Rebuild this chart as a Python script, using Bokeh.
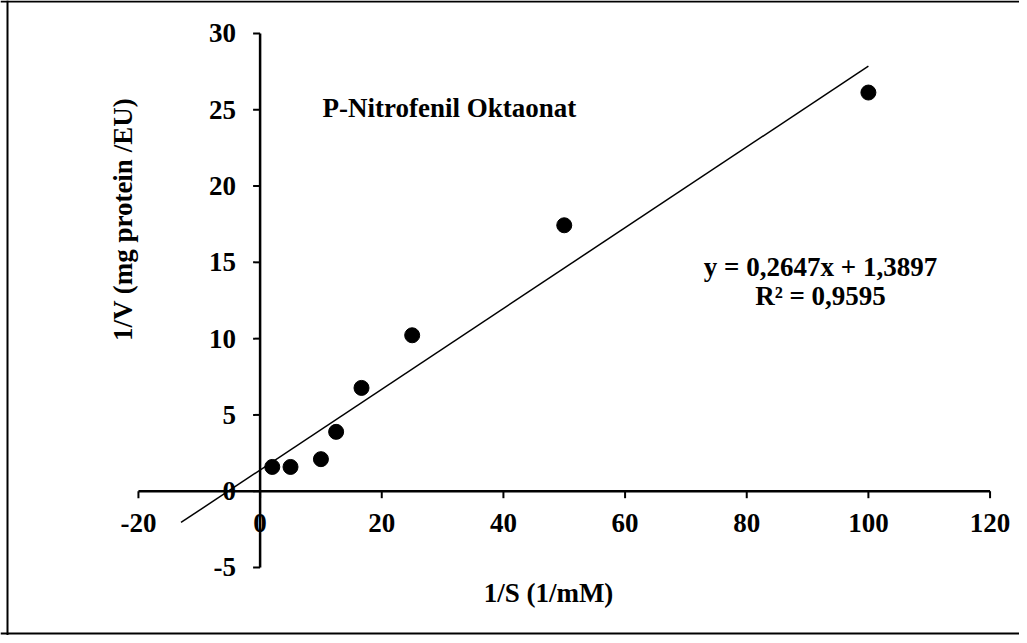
import numpy as np
from bokeh.plotting import figure
from bokeh.models import Range1d, ColumnDataSource, Span
from bokeh.core.properties import value
from bokeh.embed import file_html
from bokeh.resources import INLINE

# ---- data ----
inv_s = [2, 5, 10, 12.5, 16.67, 25, 50, 100]          # 1/S (1/mM)
inv_v = [1.59, 1.59, 2.10, 3.89, 6.77, 10.22, 17.43, 26.13]  # 1/V
slope = 0.2647
intercept = 1.3897
trend_x = [-13, 100]
x_ticks = [-20, 0, 20, 40, 60, 80, 100, 120]
y_ticks = [-5, 0, 5, 10, 15, 20, 25, 30]
x_tick_labels = [str(t) for t in x_ticks]
y_tick_labels = [str(t) for t in y_ticks]
title_text = "P-Nitrofenil Oktaonat"
eq_text = "y = 0,2647x + 1,3897"
r2_text = "R\u00b2 = 0,9595"
xlabel = "1/S (1/mM)"
ylabel = "1/V (mg protein /EU)"

# ---- layout (pixel scale of the frame) ----
W, H = 1019, 635
X0, SX = 259.6, 6.083     # canvas px of x=0, px per unit
Y0, SY = 490.7, 15.257    # canvas px (from top) of y=0, px per unit

def xd(px):
    return (px - X0) / SX

def yd(py):
    return (Y0 - py) / SY

p = figure(width=W, height=H, output_backend="svg", toolbar_location=None,
           x_axis_type=None, y_axis_type=None, min_border=0,
           x_range=Range1d(xd(0), xd(W)), y_range=Range1d(yd(H), yd(0)))
p.outline_line_color = None
p.background_fill_color = "white"
p.border_fill_color = "white"
p.xgrid.visible = False
p.ygrid.visible = False

# chart border (left, top, bottom)
for loc, dim in [(xd(7), "height"), (yd(1), "width"), (yd(633), "width")]:
    p.add_layout(Span(location=loc, dimension=dim, line_color="black", line_width=2))

font = value("Liberation Serif")
FS = "27px"

# axes crossing at zero
p.segment(x0=[x_ticks[0]], y0=[0], x1=[x_ticks[-1]], y1=[0], line_color="black", line_width=2.5)
p.segment(x0=[0], y0=[y_ticks[0]], x1=[0], y1=[y_ticks[-1]], line_color="black", line_width=2.5)
tick_len_y = 7 / SY
tick_len_x = 7 / SX
p.segment(x0=x_ticks, y0=[0] * len(x_ticks), x1=x_ticks, y1=[-tick_len_y] * len(x_ticks),
          line_color="black", line_width=2)
p.segment(x0=[0] * len(y_ticks), y0=y_ticks, x1=[-tick_len_x] * len(y_ticks), y1=y_ticks,
          line_color="black", line_width=2)

xt = ColumnDataSource(dict(x=x_ticks, y=[0] * len(x_ticks), t=x_tick_labels))
p.text(x="x", y="y", text="t", source=xt, text_font=font, text_font_style="bold",
       text_font_size=FS, text_align="center", text_baseline="middle",
       y_offset=32, text_color="black")
yt = ColumnDataSource(dict(x=[0] * len(y_ticks), y=y_ticks, t=y_tick_labels))
p.text(x="x", y="y", text="t", source=yt, text_font=font, text_font_style="bold",
       text_font_size=FS, text_align="right", text_baseline="middle",
       x_offset=-24, text_color="black")

# axis titles
p.text(x=[xd(548)], y=[yd(592)], text=[xlabel], text_font=font, text_font_style="bold",
       text_font_size=FS, text_align="center", text_baseline="middle", text_color="black")
p.text(x=[xd(122)], y=[yd(219)], text=[ylabel], text_font=font, text_font_style="bold",
       text_font_size=FS, text_align="center", text_baseline="middle",
       angle=np.pi / 2, text_color="black")

# chart title and equation
p.text(x=[xd(322)], y=[yd(107)], text=[title_text], text_font=font, text_font_style="bold",
       text_font_size=FS, text_align="left", text_baseline="middle", text_color="black")
p.text(x=[xd(820), xd(820)], y=[yd(266), yd(295)], text=[eq_text, r2_text], text_font=font,
       text_font_style="bold", text_font_size=FS, text_align="center",
       text_baseline="middle", text_color="black")

# trendline
trend_y = [slope * v + intercept for v in trend_x]
p.line(trend_x, trend_y, line_color="black", line_width=1.5)

# data points
p.scatter(inv_s, inv_v, size=15, marker="circle", fill_color="black", line_color="black")

open("out.html", "w").write(file_html(p, INLINE))
